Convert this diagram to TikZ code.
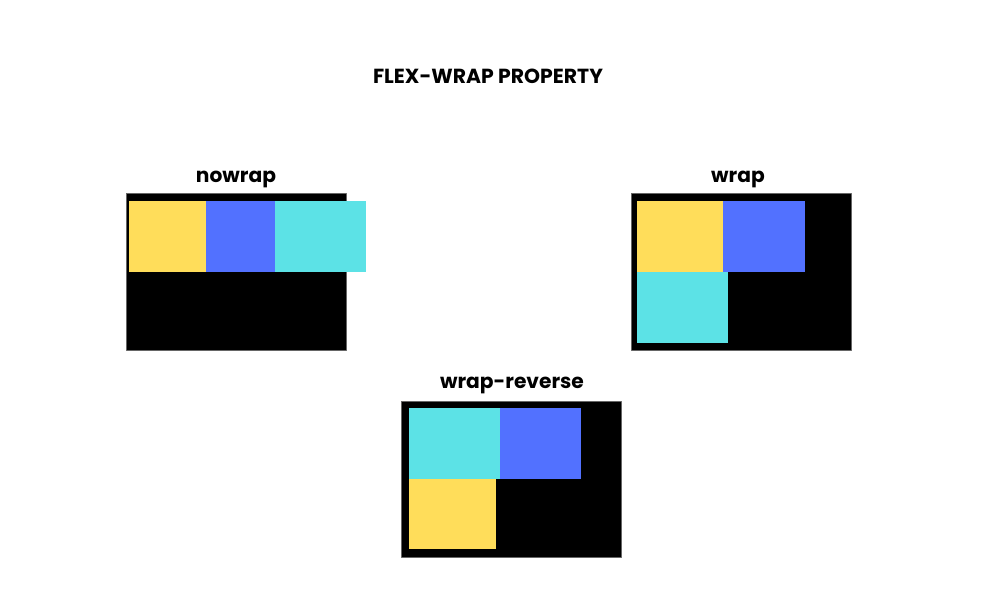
\documentclass[tikz,border=0pt]{standalone}
\usepackage{fontspec}
\setmainfont{Poppins}
\definecolor{itemyellow}{HTML}{FFDD5A}
\definecolor{itemblue}{HTML}{5271FF}
\definecolor{itemcyan}{HTML}{5CE2E6}
\begin{document}
\begin{tikzpicture}[x=0.02cm,y=-0.02cm,line join=round,font=\bfseries\fontsize{11.5}{14}\selectfont]
			\useasboundingbox (0,0) rectangle (1000,600);
			\tikzset{title/.style={anchor=base,font=\bfseries\fontsize{11.6}{14}\selectfont},
				label/.style={anchor=base},
				panel/.style={fill=black,draw=black!60,line width=0.3pt}}
			% nowrap
			\coordinate (A) at (126,193);
			\coordinate (A-1) at (346,350);
			\coordinate (A-y1) at (129,201);
			\coordinate (A-y2) at (206,272);
			\coordinate (A-b2) at (275,272);
			\coordinate (A-c2) at (366,272);
			% wrap
			\coordinate (B) at (631,193);
			\coordinate (B-1) at (851,350);
			\coordinate (B-y1) at (637,201);
			\coordinate (B-y2) at (723,272);
			\coordinate (B-b2) at (805,272);
			\coordinate (B-c1) at (637,272);
			\coordinate (B-c2) at (728,343);
			% wrap-reverse
			\coordinate (C) at (401,401);
			\coordinate (C-1) at (621,557);
			\coordinate (C-c1) at (409,408);
			\coordinate (C-c2) at (500,479);
			\coordinate (C-b2) at (581,479);
			\coordinate (C-y1) at (409,479);
			\coordinate (C-y2) at (496,549);
			\node[title] (flexwrap) at (488,83) {FLEX-WRAP PROPERTY};
			\node[label] (nowrap) at (236,182) {nowrap};
			\node[label] (wrap) at (738,182) {wrap};
			\node[label] (wrapreverse) at (512,388) {wrap-reverse};
			\draw[panel] (A) rectangle (A-1);
			\fill[itemyellow] (A-y1) rectangle (A-y2);
			\fill[itemblue] (A-y1-|A-y2) rectangle (A-b2);
			\fill[itemcyan] (A-y1-|A-b2) rectangle (A-c2);
			\draw[panel] (B) rectangle (B-1);
			\fill[itemyellow] (B-y1) rectangle (B-y2);
			\fill[itemblue] (B-y1-|B-y2) rectangle (B-b2);
			\fill[itemcyan] (B-c1) rectangle (B-c2);
			\draw[panel] (C) rectangle (C-1);
			\fill[itemcyan] (C-c1) rectangle (C-c2);
			\fill[itemblue] (C-c1-|C-c2) rectangle (C-b2);
			\fill[itemyellow] (C-y1) rectangle (C-y2);
		\end{tikzpicture}
\end{document}
